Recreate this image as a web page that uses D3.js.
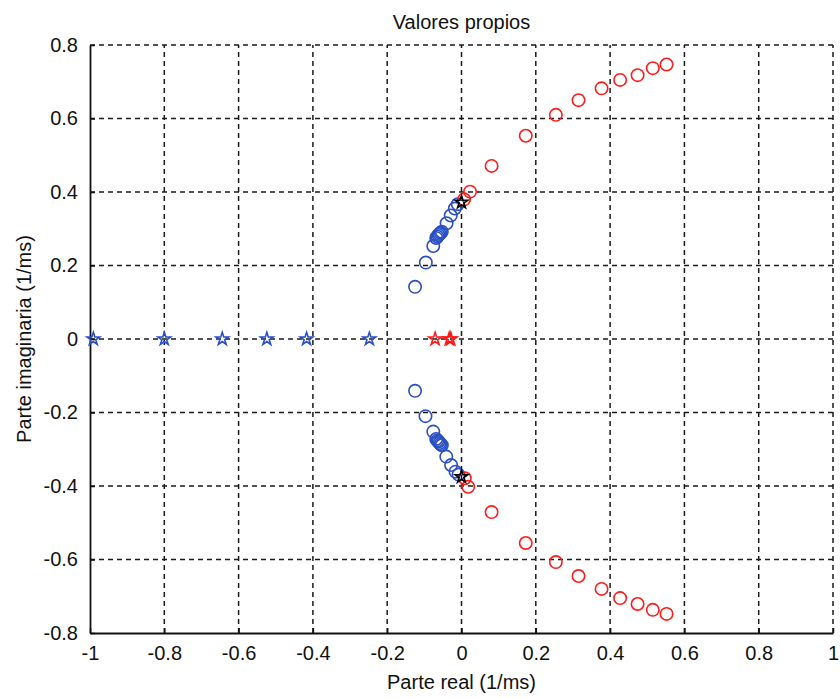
<!DOCTYPE html>
<html>
<head>
<meta charset="utf-8">
<script src="https://cdn.jsdelivr.net/npm/d3@7"></script>
<style>
  html, body { margin: 0; padding: 0; background: #fff; }
  svg text { font-family: "Liberation Sans", Arial, sans-serif; fill: #111; }
</style>
</head>
<body>
<svg id="chart" width="840" height="698"></svg>
<script>
// Eigenvalues (1/ms): real and imaginary parts
const blueUpperRe = [-0.125, -0.096, -0.076, -0.068, -0.065, -0.062, -0.059, -0.056, -0.053, -0.040, -0.029, -0.018, -0.010];
const blueUpperIm = [0.142, 0.208, 0.253, 0.275, 0.279, 0.283, 0.286, 0.289, 0.292, 0.315, 0.336, 0.355, 0.367];
const blueLowerRe = [-0.125, -0.097, -0.076, -0.068, -0.065, -0.062, -0.059, -0.056, -0.053, -0.041, -0.028, -0.016, -0.008];
const blueLowerIm = [-0.141, -0.210, -0.252, -0.272, -0.276, -0.279, -0.283, -0.286, -0.289, -0.320, -0.343, -0.361, -0.369];

const redUpperRe = [0.007, 0.023, 0.081, 0.173, 0.254, 0.315, 0.377, 0.427, 0.474, 0.515, 0.552];
const redUpperIm = [0.380, 0.401, 0.471, 0.553, 0.610, 0.650, 0.682, 0.705, 0.718, 0.737, 0.747];
const redLowerRe = [0.009, 0.018, 0.081, 0.173, 0.254, 0.315, 0.377, 0.427, 0.474, 0.515, 0.552];
const redLowerIm = [-0.379, -0.402, -0.471, -0.555, -0.607, -0.645, -0.680, -0.705, -0.721, -0.737, -0.748];

const blueStarRe = [-0.991, -0.800, -0.644, -0.524, -0.417, -0.248];
const redStarRe = [-0.071, -0.033, -0.029];
const blackStarRe = [0.000, 0.000];
const blackStarIm = [0.372, -0.375];

const xTicks = [-1, -0.8, -0.6, -0.4, -0.2, 0, 0.2, 0.4, 0.6, 0.8, 1];
const yTicks = [-0.8, -0.6, -0.4, -0.2, 0, 0.2, 0.4, 0.6, 0.8];

const svg = d3.select("#chart");
const plotL = 90, plotR = 833, plotT = 45, plotB = 633;

const x = d3.scaleLinear().domain([-1, 1]).range([plotL, plotR]);
const y = d3.scaleLinear().domain([-0.8, 0.8]).range([plotB, plotT]);

// tick labels with a plain hyphen for negatives
const fmt = v => {
  if (v === 0) return "0";
  const s = Number.isInteger(v) ? String(Math.abs(v)) : Math.abs(v).toFixed(1);
  return (v < 0 ? "-" : "") + s;
};

// dashed grid
const grid = svg.append("g").attr("stroke", "#1a1a1a").attr("stroke-width", 1.5)
  .attr("stroke-dasharray", "5,4").attr("fill", "none");
grid.selectAll("line.gx").data(xTicks.slice(1)).join("line")
  .attr("class", "gx")
  .attr("x1", d => x(d)).attr("x2", d => x(d)).attr("y1", plotB).attr("y2", plotT);
grid.selectAll("line.gy").data(yTicks.slice(1)).join("line")
  .attr("class", "gy")
  .attr("x1", plotL).attr("x2", plotR).attr("y1", d => y(d)).attr("y2", d => y(d));

// axes (left and bottom solid, ticks inward)
const xAxis = d3.axisBottom(x).tickValues(xTicks).tickFormat(fmt).tickSizeInner(-5).tickSizeOuter(0).tickPadding(13);
const yAxis = d3.axisLeft(y).tickValues(yTicks).tickFormat(fmt).tickSizeInner(-5).tickSizeOuter(0).tickPadding(12);

const gx = svg.append("g").attr("transform", `translate(0,${plotB})`).call(xAxis);
const gy = svg.append("g").attr("transform", `translate(${plotL},0)`).call(yAxis);
[gx, gy].forEach(g => {
  g.select(".domain").attr("stroke", "#111").attr("stroke-width", 1.8);
  g.selectAll(".tick line").attr("stroke", "#111").attr("stroke-width", 1.5);
  g.selectAll(".tick text").attr("font-size", 20).attr("font-family", "Liberation Sans, Arial, sans-serif").attr("fill", "#111");
});
gx.selectAll(".tick text").attr("dy", "0.71em");

// markers
const circ = (re, im, color) => svg.append("g")
  .selectAll("circle").data(re.map((r, i) => [r, im[i]])).join("circle")
  .attr("cx", d => x(d[0])).attr("cy", d => y(d[1])).attr("r", 6.2)
  .attr("fill", "none").attr("stroke", color).attr("stroke-width", 1.6);

const starPath = d3.symbol().type(d3.symbolStar).size(50);
const stars = (re, im, color) => svg.append("g")
  .selectAll("path").data(re.map((r, i) => [r, im[i]])).join("path")
  .attr("d", starPath)
  .attr("transform", d => `translate(${x(d[0])},${y(d[1])})`)
  .attr("fill", "none").attr("stroke", color).attr("stroke-width", 1.6);

const blue = "#2b4fc4", red = "#ff1a1a";
circ(blueUpperRe, blueUpperIm, blue);
circ(blueLowerRe, blueLowerIm, blue);
circ(redUpperRe, redUpperIm, red);
circ(redLowerRe, redLowerIm, red);
stars(blueStarRe, blueStarRe.map(() => 0), blue);
stars(redStarRe, redStarRe.map(() => 0), red);
stars(blackStarRe, blackStarIm, "#000");

// labels
svg.append("text").attr("x", (plotL + plotR) / 2).attr("y", 29)
  .attr("text-anchor", "middle").attr("font-size", 20).text("Valores propios");
svg.append("text").attr("x", (plotL + plotR) / 2).attr("y", 689)
  .attr("text-anchor", "middle").attr("font-size", 20).text("Parte real (1/ms)");
svg.append("text").attr("transform", `translate(31,${(plotT + plotB) / 2}) rotate(-90)`)
  .attr("text-anchor", "middle").attr("font-size", 20).text("Parte imaginaria (1/ms)");
</script>
</body>
</html>
